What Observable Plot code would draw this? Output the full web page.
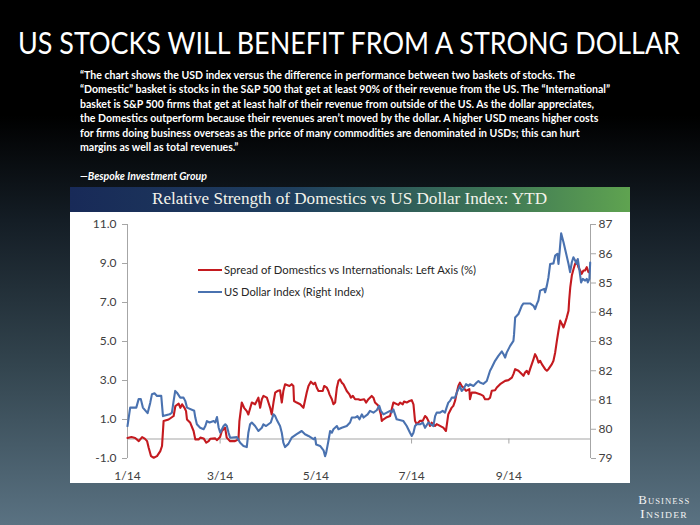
<!DOCTYPE html>
<html>
<head>
<meta charset="utf-8">
<script src="https://cdn.jsdelivr.net/npm/d3@7"></script>
<script src="https://cdn.jsdelivr.net/npm/@observablehq/plot@0.6"></script>
<style>
  html, body { margin: 0; padding: 0; }
  body {
    width: 700px; height: 525px; position: relative; overflow: hidden;
    background: linear-gradient(to bottom, #000 0%, #000 22%, #141d25 42%, #33454f 70%, #5a7282 100%);
    font-family: Lato, "Open Sans", sans-serif;
  }
  .abs { position: absolute; white-space: nowrap; }
  #title { left: 18px; top: 27px; font-size: 30px; line-height: 30px; color: #fff; transform-origin: left center; }
  .q { left: 80px; font-size: 12px; line-height: 14.3px; color: #fff; font-weight: 700; transform-origin: left center; }
  #banner { left: 70px; top: 187px; width: 560px; height: 25px;
    background: linear-gradient(to right, #182a58 0%, #1f3f5e 40%, #3d7556 75%, #5fa350 100%); }
  #bannerText { position: absolute; left: 0; width: 560px; top: 3px; text-align: center;
    font-family: "Liberation Serif", "DejaVu Serif", serif; font-size: 16px; line-height: 18px; color: #f3f3ea; }
  #bannerText span { display: inline-block; transform-origin: center center; }
  #chart { left: 70px; top: 212px; width: 560px; height: 271px; background: #fff; }
  .legline { position: absolute; height: 2px; width: 24px; left: 198px; }
  .legtxt { left: 224px; font-size: 12px; line-height: 14px; color: #262626; transform-origin: left center; }
  .logo { font-family: "Liberation Serif", "DejaVu Serif", serif; color: #f2f2f2; font-variant: small-caps;
    font-size: 12px; line-height: 12px; letter-spacing: 1px; transform-origin: center center; }
</style>
</head>
<body>
<script>
// ---------------- data ----------------
// Days counted from 2014-01-01
const redDay = [0,2.5,4.9,7.2,9.3,11,12.5,13.5,15,16.7,18.8,20.9,22,23,26.2,29.4,30.5,32.6,33.7,34.8,36.3,37.3,37.9,40,42.1,43.2,45.3,46.4,48.5,50.2,51.7,52.7,55.9,56.9,59,60.1,62.2,63.2,65.4,68.5,70.7,71.3,72.8,74.3,76,77,79.2,81.3,83.4,84.5,85.6,86.6,88.8,89.8,90.9,91.9,93,94.1,95.5,97.2,98.3,99.3,100.4,103.2,104.6,105.7,106.1,107.8,110,112.1,114.2,115.3,116.8,118.5,119.5,120.6,121.7,124.4,125.3,127,128,128.7,130.2,131.2,132.3,133.4,134.4,135.5,136.5,137.6,138.7,139.7,141.4,142.3,143.6,145,147.1,148.3,150.8,152,153.5,155.6,156.7,157.7,159.9,161.4,162,163.1,164.8,167.3,169.4,172.6,173.7,175.4,176.2,177.9,179.6,181.1,182.2,183.2,184.3,186.4,188.1,189.6,190.6,191.7,192.7,193.8,195.9,197,201.2,202.9,203.8,204.4,206.6,207.6,208.7,209.8,210.8,211.8,212.9,214,215.7,217.8,218.2,219.3,221.4,224.6,226.7,227.8,229.9,231,232.1,234.2,235.3,237.4,240.6,242.7,244.9,245.9,247,249.1,251.2,252.3,253.3,254.4,255.5,256.5,257.6,258.7,259.7,260.8,261.9,262.9,264,266.1,267.2,268.2,270.4,271.4,272.5,273.6,274.6,275.7,276.8,277.8,278.9,279.9,281,281.4,282.1,283.1,284.2,285.2,286.3,287.3,288.4,289.4,290.5,291.5,292.6,293.7];
const redVal = [0.05,0.1,0.05,-0.11,0.1,0.02,-0.11,-0.45,-0.88,-0.96,-0.88,-0.62,-0.36,0.92,1.0,1.18,1.69,1.81,1.6,1.78,1.6,1.43,1.0,0.83,0.41,-0.02,-0.02,0.07,0.03,-0.19,-0.11,0.01,0.03,-0.06,0.1,0.41,0.58,0.07,-0.11,-0.11,-0.02,0.92,1.87,1.6,1.43,1.26,1.87,1.78,2.12,1.6,2.04,2.21,2.12,1.87,1.6,1.26,1.87,2.38,2.46,2.5,1.87,2.46,2.81,2.72,2.81,2.72,1.95,1.87,1.78,1.6,2.38,2.72,2.94,2.81,2.89,2.63,2.46,2.46,2.72,2.63,2.46,2.29,2.04,1.78,1.87,2.63,2.98,3.06,2.89,2.81,2.63,2.46,2.29,2.12,2.21,2.04,2.04,2.0,2.04,1.87,2.04,2.21,2.12,1.87,1.7,1.27,0.93,1.01,1.1,1.18,1.87,1.75,1.87,1.78,1.92,1.87,1.95,1.99,1.78,0.93,0.76,0.93,0.93,1.18,1.1,0.93,0.67,0.84,0.67,0.76,0.58,0.41,0.93,1.27,1.61,1.7,1.95,2.38,2.72,2.89,2.72,2.64,2.47,2.56,2.04,2.38,2.38,2.3,2.21,2.04,2.04,2.12,2.47,2.5,2.64,2.81,2.98,3.02,3.15,3.33,3.58,3.5,3.33,3.24,3.41,3.5,3.33,3.58,3.84,4.1,4.35,4.18,3.92,4.01,3.84,3.58,3.5,3.58,3.84,4.01,4.44,5.04,5.55,6.07,5.9,5.72,5.98,6.24,6.58,7.1,7.78,8.38,8.72,8.98,9.15,8.81,8.64,8.47,8.64,8.64,8.81,8.55];

const usdDay = [0,1.7,5.6,7.1,8.5,9.8,12.8,14.5,15.6,17.2,18.8,21.5,22.6,26.8,28.3,29.4,30.4,31.5,33.6,35.7,36.8,37.9,42.5,43.2,44.2,46.3,48.5,49.6,50.6,52.3,54.9,55.9,57,58.1,59.1,61.2,62.3,63.3,64.4,65.4,69.7,71.8,73.9,76,77,78.1,79.2,81.3,83.4,85.6,86.6,88.3,89.8,91.3,93,94.1,95.5,97.2,98.3,99.3,100.4,102.5,104.6,107.8,111,113.1,115.3,118.5,119.5,120.2,122.7,124.9,125.9,126.6,128,129.1,130.2,131.2,133.4,134.4,136.5,139.7,141.8,142.9,145,146.5,147.8,149.3,150.4,153,154.5,156.7,158.8,160.4,161.4,163.1,165.2,167.3,168.3,169.4,171.5,175.8,177.9,180,181.1,182.2,183.2,184.3,186.4,188.1,189.6,191.7,193.2,194.9,196,197,199.1,200.8,202.3,203.3,204.4,205.5,206.6,208.7,209.8,210.8,211.8,212.9,214,215.7,217.2,218.2,220.4,222.5,223.6,224.6,226.7,228.9,231,232.1,234.2,236.3,238.5,239.5,240.6,241.6,243.8,245.9,246.3,247,249.1,251.2,252.3,256.5,258.7,259.7,260.8,261.8,262.9,265.5,266.1,267.2,268.2,269.3,271.4,272.5,273.9,274.6,275.3,276.3,277.8,279.5,281,282,283.1,284.1,285.2,286.3,286.9,288,289,290.1,291.6,292.6,293.3,294.3,294.8];
const usdVal = [80.11,80.74,80.74,81.03,81.03,80.74,80.55,80.91,81.2,81.23,81.14,81.14,80.45,80.51,80.57,80.97,81.31,81.25,81.08,81.08,80.97,80.74,80.63,80.4,80.17,80.05,80.0,80.11,80.28,80.23,80.28,80.23,80.42,80.05,79.88,80.11,80.17,80.11,79.88,79.71,79.73,79.54,79.43,79.39,79.88,80.17,80.23,80.11,79.94,80.05,80.17,80.11,80.17,80.23,80.51,80.45,80.28,80.11,79.88,79.54,79.39,79.5,79.71,79.83,79.94,79.83,79.77,79.66,79.71,79.48,79.43,79.28,79.08,79.2,79.6,79.94,79.88,80.0,80.11,80.0,80.05,80.11,80.23,80.4,80.4,80.45,80.34,80.51,80.4,80.51,80.63,80.57,80.65,80.8,80.63,80.51,80.57,80.63,80.57,80.68,80.34,80.28,80.11,79.88,79.77,79.88,80.11,80.17,80.17,80.23,80.05,80.23,80.17,80.11,80.45,80.57,80.57,80.63,80.57,80.74,80.91,80.97,81.08,81.08,81.25,81.37,81.48,81.31,81.37,81.54,81.48,81.54,81.48,81.6,81.65,81.6,81.55,81.65,82.0,82.11,82.34,82.51,82.66,82.57,82.45,82.62,82.85,83.02,83.25,83.82,83.94,84.22,84.3,84.3,84.22,84.11,84.28,84.4,84.74,84.8,84.68,84.91,85.19,85.65,85.67,85.94,86.0,85.65,86.05,86.7,86.39,86.0,85.65,85.37,85.71,85.88,85.77,85.65,85.82,85.42,85.02,85.14,85.08,85.14,85.02,85.14,85.7];

const xStart = "2014-01-01";
const xEnd = "2014-10-23";
const xTickDates = ["2014-01-01", "2014-03-01", "2014-05-01", "2014-07-01", "2014-09-01"];
const xTickLabels = ["1/14", "3/14", "5/14", "7/14", "9/14"];
const leftTicks = [-1, 1, 3, 5, 7, 9, 11];
const rightTicks = [79, 80, 81, 82, 83, 84, 85, 86, 87];
const legendLabels = ["Spread of Domestics vs Internationals: Left Axis (%)", "US Dollar Index (Right Index)"];
const colors = { spread: "#c41a1f", usd: "#4a72b0", axis: "#a6a6a6" };

const titleText = "US STOCKS WILL BENEFIT FROM A STRONG DOLLAR";
const quoteLines = [
  "\u201CThe chart shows the USD index versus the difference in performance between two baskets of stocks. The",
  "\u201CDomestic\u201D basket is stocks in the S&P 500 that get at least 90% of their revenue from the US. The \u201CInternational\u201D",
  "basket is S&P 500 firms that get at least half of their revenue from outside of the US. As the dollar appreciates,",
  "the Domestics outperform because their revenues aren\u2019t moved by the dollar. A higher USD means higher costs",
  "for firms doing business overseas as the price of many commodities are denominated in USDs; this can hurt",
  "margins as well as total revenues.\u201D"
];
const sourceText = "\u2014Bespoke Investment Group";
const chartTitle = "Relative Strength of Domestics vs US Dollar Index: YTD";

// ---------------- helpers ----------------
const t0 = Date.parse(xStart);
const toDate = d => new Date(t0 + d * 864e5);
// right axis (USD index) mapped onto the left scale: 79 -> -1, 87 -> 11
const usdToLeft = v => 1.5 * v - 119.5;

const spread = redDay.map((d, i) => ({ date: toDate(d), v: redVal[i] }));
const usd = usdDay.map((d, i) => ({ date: toDate(d), v: usdToLeft(usdVal[i]) }));
const tickDates = xTickDates.map(s => new Date(s));
const xLabelMap = new Map(tickDates.map((d, i) => [+d, xTickLabels[i]]));
const rightPos = rightTicks.map(usdToLeft);
const rightLabelMap = new Map(rightTicks.map(v => [usdToLeft(v), String(v)]));

function add(tag, cls, id, text, css) {
  const el = document.createElement(tag);
  if (cls) el.className = cls;
  if (id) el.id = id;
  if (text != null) el.textContent = text;
  if (css) Object.assign(el.style, css);
  document.body.appendChild(el);
  return el;
}

// ---------------- page text ----------------
const titleEl = add("div", "abs", "title", titleText);
const qEls = quoteLines.map((s, i) => add("div", "abs q", null, s, { top: (68 + i * 14.4) + "px" }));
const srcEl = add("div", "abs q", null, sourceText, { top: "169px", fontStyle: "italic" });

const banner = add("div", "abs", "banner");
const bt = document.createElement("div"); bt.id = "bannerText";
const bts = document.createElement("span"); bts.textContent = chartTitle; bt.appendChild(bts); banner.appendChild(bt);

const chart = add("div", "abs", "chart");

const plot = Plot.plot({
  width: 560, height: 271,
  marginLeft: 57, marginRight: 40, marginTop: 12, marginBottom: 25,
  x: { type: "utc", domain: [new Date(xStart), new Date(xEnd)], label: null },
  y: { domain: [leftTicks[0], leftTicks[leftTicks.length - 1]], label: null },
  style: { fontFamily: "Lato, 'Open Sans', sans-serif", fontSize: "12px", color: "#404040", background: "white", overflow: "visible" },
  marks: [
    Plot.ruleY([0], { stroke: colors.axis, strokeWidth: 1.2 }),
    Plot.ruleX(tickDates.slice(1), { y1: 0, y2: 0, insetBottom: -5, stroke: colors.axis }),
    Plot.ruleX([new Date(xStart)], { stroke: colors.axis }),
    Plot.ruleX([new Date(xEnd)], { stroke: colors.axis }),
    Plot.axisY(leftTicks, { anchor: "left", label: null, tickSize: 5, tickPadding: 6, stroke: colors.axis, tickFormat: d => d.toFixed(1) }),
    Plot.axisY(rightPos, { anchor: "right", label: null, tickSize: 5, tickPadding: 3, stroke: colors.axis, tickFormat: d => rightLabelMap.get(d) }),
    Plot.axisX(tickDates, { anchor: "bottom", label: null, tickSize: 0, tickPadding: 13, tickFormat: d => xLabelMap.get(+d) }),
    Plot.line(spread, { x: "date", y: "v", stroke: colors.spread, strokeWidth: 2.1 }),
    Plot.line(usd, { x: "date", y: "v", stroke: colors.usd, strokeWidth: 2.1 })
  ]
});
chart.appendChild(plot);

// legend
const legY = [270, 292];
const legEls = [];
[colors.spread, colors.usd].forEach((c, i) => {
  add("div", "legline", null, null, { background: c, top: (legY[i] - 1) + "px", position: "absolute" });
});
legendLabels.forEach((s, i) => legEls.push(add("div", "abs legtxt", null, s, { top: (legY[i] - 7) + "px" })));

// logo
const logo1 = add("div", "abs logo", null, "Business", { top: "494px" });
const logo2 = add("div", "abs logo", null, "Insider", { top: "508px" });

// ---------------- fit text widths to the reference layout ----------------
function fit(el, target, origin) {
  el.style.transform = "none";
  const w = el.getBoundingClientRect().width;
  el.style.transformOrigin = origin || "left center";
  el.style.transform = `scaleX(${target / w})`;
}
function place() {
  fit(titleEl, 662);
  qEls.forEach(e => e.style.transform = "none");
  const w2 = qEls[1].getBoundingClientRect().width;
  const k = 530 / w2;
  qEls.concat([srcEl]).forEach(e => { e.style.transformOrigin = "left center"; e.style.transform = `scaleX(${k})`; });
  fit(bts, 395, "center center");
  fit(legEls[0], 252);
  fit(legEls[1], 140);
  [[logo1, 52], [logo2, 48]].forEach(([el, w]) => {
    el.style.transform = "none";
    const r = el.getBoundingClientRect().width;
    el.style.left = (664 - r / 2) + "px";
    el.style.transformOrigin = "center center";
    el.style.transform = `scaleX(${w / r})`;
  });
}
place();
if (document.fonts && document.fonts.ready) document.fonts.ready.then(place);
</script>
</body>
</html>
